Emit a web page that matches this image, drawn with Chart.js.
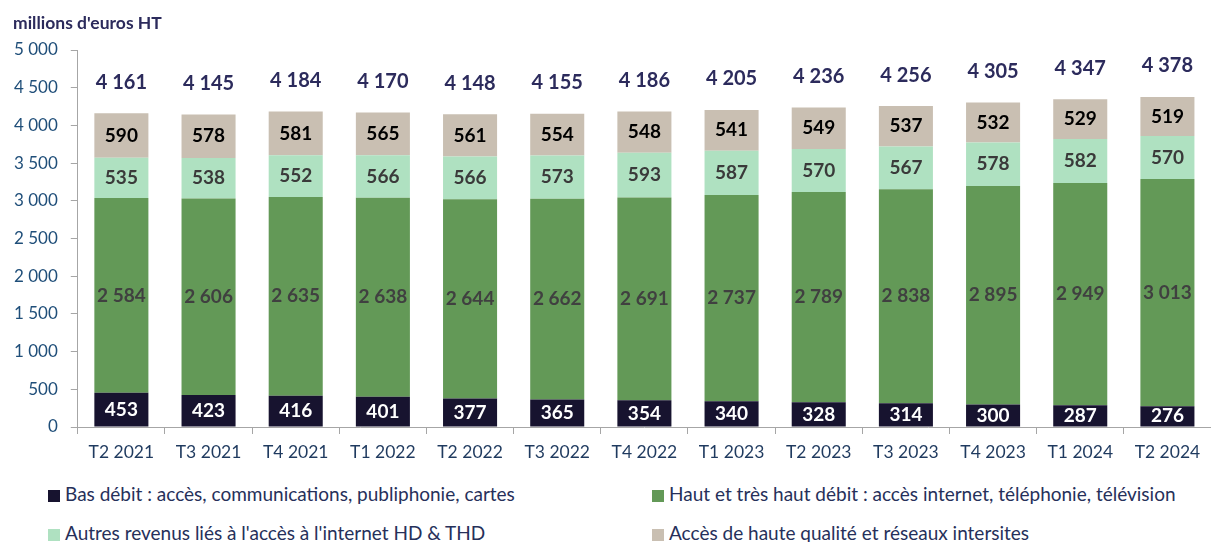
<!DOCTYPE html>
<html>
<head>
<meta charset="utf-8">
<script src="https://cdn.jsdelivr.net/npm/chart.js@4/dist/chart.umd.min.js"></script>
<style>
  body { margin: 0; background: #fff; font-family: Lato, "Open Sans", sans-serif; }
  #wrap { position: relative; width: 1211px; height: 542px; }
  #chart-box { position: absolute; left: 0; top: 0; width: 1211px; height: 471px; }
  #title { position: absolute; left: 13px; top: 12px; font-size: 17.5px; font-weight: bold; color: #2c2b5c; line-height: 22px; }
  .leg { position: absolute; font-size: 19px; color: #26305a; white-space: nowrap; line-height: 22px; }
  .leg i { display: inline-block; width: 12px; height: 12px; margin-right: 5px; vertical-align: -1px; }
</style>
</head>
<body>
<div id="wrap">
  <div id="chart-box"><canvas id="chart"></canvas></div>
  <div id="title">millions d'euros HT</div>
  <div class="leg" style="left:48px;top:483px"><i style="background:#17132f"></i>Bas débit : accès, communications, publiphonie, cartes</div>
  <div class="leg" style="left:652px;top:483px"><i style="background:#639957"></i>Haut et très haut débit : accès internet, téléphonie, télévision</div>
  <div class="leg" style="left:48px;top:522px"><i style="background:#afe1c1"></i>Autres revenus liés à l'accès à l'internet HD &amp; THD</div>
  <div class="leg" style="left:652px;top:522px"><i style="background:#c9bfb2"></i>Accès de haute qualité et réseaux intersites</div>
</div>
<script>
const quarters = ["T2 2021", "T3 2021", "T4 2021", "T1 2022", "T2 2022", "T3 2022", "T4 2022",
  "T1 2023", "T2 2023", "T3 2023", "T4 2023", "T1 2024", "T2 2024"];
const basDebit = [453, 423, 416, 401, 377, 365, 354, 340, 328, 314, 300, 287, 276];
const hautDebit = [2584, 2606, 2635, 2638, 2644, 2662, 2691, 2737, 2789, 2838, 2895, 2949, 3013];
const autresRevenus = [535, 538, 552, 566, 566, 573, 593, 587, 570, 567, 578, 582, 570];
const hauteQualite = [590, 578, 581, 565, 561, 554, 548, 541, 549, 537, 532, 529, 519];
const totals = [4161, 4145, 4184, 4170, 4148, 4155, 4186, 4205, 4236, 4256, 4305, 4347, 4378];

const fmt = v => String(v).replace(/\B(?=(\d{3})+(?!\d))/g, " ");
const labelColors = ["#ffffff", "#404040", "#3a3a3a", "#000000"];

// étiquettes au centre des segments + totaux au-dessus
const labelsPlugin = {
  id: "labels",
  afterDatasetsDraw(chart) {
    const ctx = chart.ctx;
    ctx.save();
    ctx.textAlign = "center";
    ctx.textBaseline = "middle";
    ctx.font = "bold 19px Lato, 'Open Sans', sans-serif";
    chart.data.datasets.forEach((ds, i) => {
      const meta = chart.getDatasetMeta(i);
      ctx.fillStyle = labelColors[i];
      meta.data.forEach((bar, j) => {
        ctx.fillText(fmt(ds.data[j]), bar.x, (bar.y + bar.base) / 2);
      });
    });
    const top = chart.getDatasetMeta(chart.data.datasets.length - 1);
    ctx.fillStyle = "#2c2b5c";
    ctx.font = "bold 20px Lato, 'Open Sans', sans-serif";
    top.data.forEach((bar, j) => {
      ctx.fillText(fmt(totals[j]), bar.x, bar.y - 31);
    });
    ctx.restore();
  }
};

new Chart(document.getElementById("chart"), {
  type: "bar",
  data: {
    labels: quarters,
    datasets: [
      { label: "Bas débit", data: basDebit, backgroundColor: "#17132f" },
      { label: "Haut et très haut débit", data: hautDebit, backgroundColor: "#639957" },
      { label: "Autres revenus", data: autresRevenus, backgroundColor: "#afe1c1" },
      { label: "Accès de haute qualité", data: hauteQualite, backgroundColor: "#c9bfb2" }
    ]
  },
  options: {
    responsive: true,
    maintainAspectRatio: false,
    animation: false,
    datasets: { bar: { barPercentage: 0.62, categoryPercentage: 1 } },
    layout: { padding: { left: 1, right: 0, top: 50, bottom: 0 } },
    plugins: {
      legend: { display: false },
      tooltip: { enabled: false }
    },
    scales: {
      x: {
        stacked: true,
        grid: { display: true, drawOnChartArea: false, color: "#a6a6a6", tickLength: 7 },
        border: { color: "#a6a6a6" },
        ticks: { color: "#1f3a5f", font: { family: "Lato, 'Open Sans', sans-serif", size: 17.5 }, padding: 8 }
      },
      y: {
        stacked: true,
        min: 0,
        max: 5000,
        grid: { display: true, drawOnChartArea: false, color: "#a6a6a6", tickLength: 7 },
        border: { color: "#a6a6a6" },
        ticks: {
          stepSize: 500,
          color: "#1f4e79",
          font: { family: "Lato, 'Open Sans', sans-serif", size: 17 },
          padding: 13,
          callback: v => fmt(v)
        }
      }
    }
  },
  plugins: [labelsPlugin]
});
</script>
</body>
</html>
